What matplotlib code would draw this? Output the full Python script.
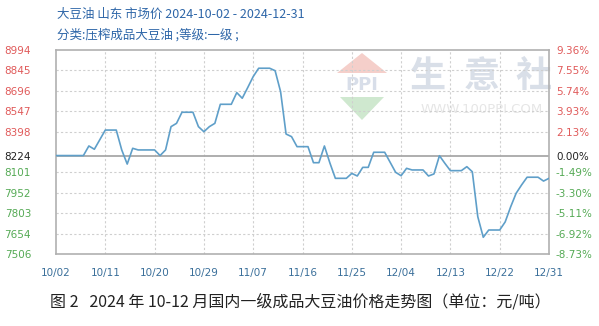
import numpy as np
import pandas as pd
import matplotlib
matplotlib.use("Agg")
from matplotlib import pyplot as plt
from matplotlib.patches import Polygon

plt.rcParams['font.family'] = ['Noto Sans CJK SC', 'DejaVu Sans']

# daily price, 10/02 .. 12/31 (yuan/ton)
dates = pd.date_range("2024-10-02", "2024-12-31", freq="D")
prices = [
    8224, 8224, 8224, 8224, 8224, 8224, 8294, 8270, 8340, 8410,   # 10/02-10/11
    8410, 8410, 8265, 8162, 8277, 8265, 8265, 8265, 8265, 8224,   # 10/12-10/21
    8265, 8435, 8459, 8540, 8540, 8540, 8435, 8398, 8435, 8459,   # 10/22-10/31
    8598, 8598, 8598, 8683, 8642, 8720, 8800, 8861, 8861, 8861,   # 11/01-11/10
    8843, 8690, 8381, 8362, 8289, 8289, 8289, 8172, 8172, 8294,   # 11/11-11/20
    8170, 8058, 8058, 8058, 8094, 8075, 8138, 8138, 8248, 8248,   # 11/21-11/30
    8248, 8175, 8102, 8077, 8131, 8119, 8119, 8119, 8075, 8090,   # 12/01-12/10
    8223, 8167, 8114, 8114, 8114, 8143, 8106, 7778, 7628, 7681,   # 12/11-12/20
    7681, 7681, 7740, 7850, 7949, 8010, 8066, 8066, 8066, 8038,   # 12/21-12/30
    8058,                                                         # 12/31
]
base = 8224
ytick_vals = [7506, 7654, 7803, 7952, 8101, 8224, 8398, 8547, 8696, 8845, 8994]
pct_labels = ["-8.73%", "-6.92%", "-5.11%", "-3.30%", "-1.49%", "0.00%",
              "2.13%", "3.93%", "5.74%", "7.55%", "9.36%"]
xtick_labels = ["10/02", "10/11", "10/20", "10/29", "11/07", "11/16",
                "11/25", "12/04", "12/13", "12/22", "12/31"]

days = np.arange(len(prices))
xticks = np.arange(0, len(prices), 9)

fig = plt.figure(figsize=(5.99, 3.26), dpi=100)
ax = fig.add_axes([56 / 599, 72 / 326, 493 / 599, 204 / 326])

ax.set_xlim(0, len(prices) - 1)
ax.set_ylim(ytick_vals[0], ytick_vals[-1])

# grid
for xt in xticks[1:-1]:
    ax.axvline(xt, color="#cfcfcf", lw=0.8, ls=(0, (2, 2)), zorder=1)
for yt in ytick_vals[1:-1]:
    if yt != base:
        ax.axhline(yt, color="#cfcfcf", lw=0.8, ls=(0, (2, 2)), zorder=1)
ax.axhline(base, color="#a8a8a8", lw=1.3, zorder=2)

# watermark (100ppi logo)
ft = fig.transFigure
def px(pts):
    return [(x / 599, 1 - y / 326) for x, y in pts]
for ch, xc in zip("生意社", [428, 482, 534]):
    ax.text(xc / 599, 1 - 76 / 326, ch, fontsize=26, color="#d9dfe8",
            ha="center", va="center", fontweight="bold", transform=ft, zorder=0.5)
ax.text(482 / 599, 1 - 109 / 326, "WWW.100PPI.COM", fontsize=9.5, color="#e6e6e6",
        ha="center", va="center", family="DejaVu Sans", transform=ft, zorder=0.5)
ax.add_patch(Polygon(px([(337, 73), (387, 73), (362, 53)]), closed=True,
                     fc="#f5cfca", ec="none", transform=ft, zorder=0.5))
ax.add_patch(Polygon(px([(340, 97), (384, 97), (362, 120)]), closed=True,
                     fc="#cfe8cf", ec="none", transform=ft, zorder=0.5))
ax.text(362 / 599, 1 - 85 / 326, "PPI", fontsize=13, color="#d8dee9",
        ha="center", va="center", family="DejaVu Sans", fontweight="bold",
        transform=ft, zorder=0.5)

ax.plot(days, prices, color="#5f9fc9", lw=1.2, zorder=3)

for s in ax.spines.values():
    s.set_color("#b0b0b0")
    s.set_linewidth(1.2)

ax.set_xticks(xticks)
ax.set_xticklabels(xtick_labels, family="DejaVu Sans", fontsize=7.5,
                   color="#3a6f9a")
ax.set_yticks(ytick_vals)
ax.set_yticklabels([str(v) for v in ytick_vals], family="DejaVu Sans", fontsize=7.5)
ax.tick_params(axis="x", length=0, pad=10)
ax.tick_params(axis="y", length=0, pad=18)

ax2 = ax.twinx()
ax2.set_ylim(ax.get_ylim())
ax2.set_yticks(ytick_vals)
ax2.set_yticklabels(pct_labels, family="DejaVu Sans", fontsize=7.5)
ax2.tick_params(axis="y", length=0, pad=5)
for s in ax2.spines.values():
    s.set_visible(False)

def lab_color(v):
    if v > base:
        return "#e05a5a"
    if v < base:
        return "#55aa55"
    return "#222222"
for lab, v in zip(ax.get_yticklabels(), ytick_vals):
    lab.set_color(lab_color(v))
for lab, v in zip(ax2.get_yticklabels(), ytick_vals):
    lab.set_color(lab_color(v))

fig.text(57 / 599, 1 - 14 / 326, "大豆油 山东 市场价 2024-10-02 - 2024-12-31",
         fontsize=9, color="#2e66a8", va="center", ha="left")
fig.text(57 / 599, 1 - 35 / 326, "分类:压榨成品大豆油 ;等级:一级 ;",
         fontsize=9, color="#2e66a8", va="center", ha="left")

fig.text(300 / 599, 1 - 302 / 326,
         "图 2   2024 年 10-12 月国内一级成品大豆油价格走势图（单位：元/吨）",
         fontsize=11.5, color="#222222", va="center", ha="center")

fig.savefig("out.png", dpi=100)
